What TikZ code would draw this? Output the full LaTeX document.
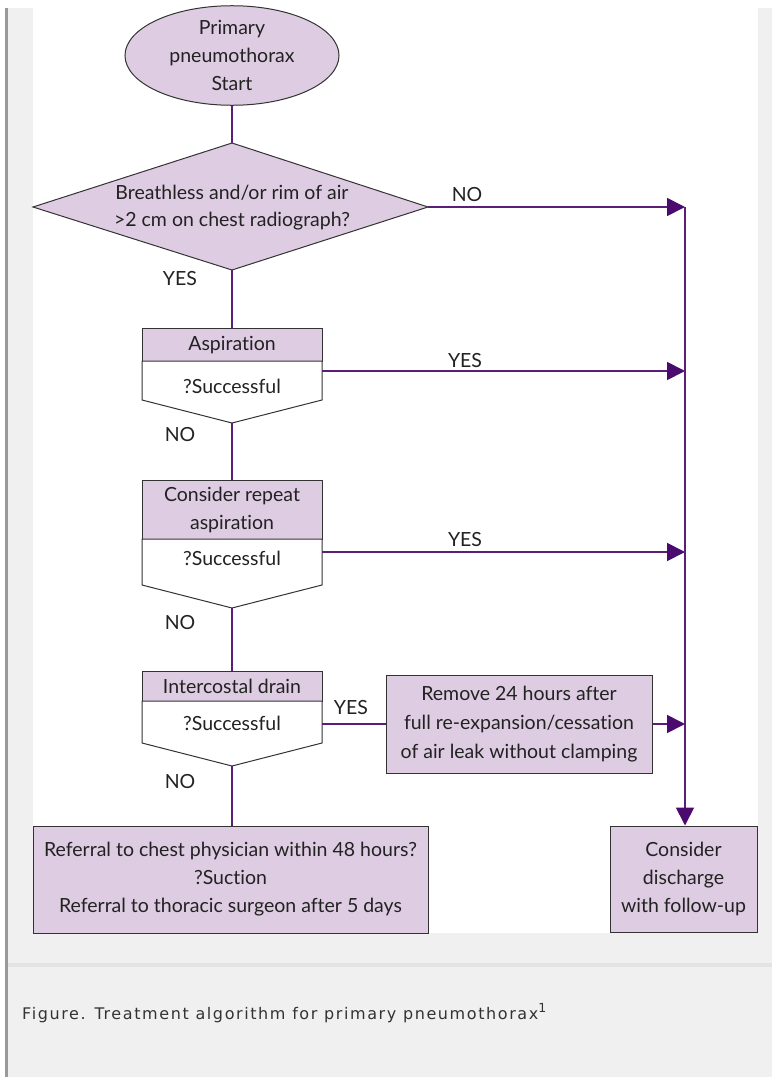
\documentclass[tikz,border=0pt]{standalone}
\usepackage{fontspec}
\setmainfont{Lato}[Ligatures=NoCommon]
\newfontfamily\capfont{DejaVu Sans}[LetterSpace=10.0]
\usetikzlibrary{arrows.meta,shapes.geometric}
\definecolor{lav}{RGB}{222,204,226}
\definecolor{pline}{RGB}{88,30,120}
\definecolor{parrow}{RGB}{75,10,110}
\definecolor{bgray}{RGB}{240,240,240}
\definecolor{txt}{RGB}{34,34,34}
\begin{document}
\begin{tikzpicture}[x=1pt,y=-1pt,
  conn/.style={draw=pline,line width=1.8pt},
  arr/.style={conn,-{Triangle[length=18pt,width=18pt,color=parrow]}},
  shapebox/.style={draw=black!80,line width=1pt,fill=lav},
  whitebox/.style={draw=black!80,line width=1pt,fill=white},
  lbl/.style={font=\fontsize{19.5}{28}\selectfont,text=txt,inner sep=0pt},
  boxtext/.style={lbl,align=center}]
% background
\fill[bgray] (0,0) rectangle (772,1077);
\fill[white] (0,0) rectangle (772,8);
\fill[white] (0,0) rectangle (5,1077);
\fill[black!40] (5,8) rectangle (7.5,1077);
\fill[white] (33,0) rectangle (758,933);
\fill[black!11] (8,963) rectangle (772,967);
\useasboundingbox (0,0) rectangle (772,1077);

% start
\node[shapebox, ellipse, minimum width=214pt, minimum height=93pt, inner sep=0pt, boxtext] (start) at (232,55.5) {Primary\\pneumothorax\\Start};

% decision
\path[shapebox] (232,143) coordinate (dT) -- (428,207) coordinate (dR) -- (232,270) coordinate (dB) -- (33,207) coordinate (dL) -- cycle;
\node[boxtext, font=\fontsize{19.5}{27}\selectfont] (dec) at (232,208) {Breathless and/or rim of air\\>2 cm on chest radiograph?};

% box 1
\path[shapebox] (142,328) rectangle (322,361);
\path[whitebox] (142,361) -- (322,361) -- (322,400) -- (232,423) coordinate (b1B) -- (142,400) -- cycle;
\coordinate (b1T) at (232,328);
\coordinate (b1R) at (322,371);
\node[boxtext] (asp) at (232,345) {Aspiration};
\node[boxtext] (asps) at (232,386) {?Successful};

% box 2
\path[shapebox] (142,480) rectangle (322,539);
\path[whitebox] (142,539) -- (322,539) -- (322,585) -- (232,608) coordinate (b2B) -- (142,585) -- cycle;
\coordinate (b2T) at (232,480);
\coordinate (b2R) at (322,552);
\node[boxtext] (rep) at (232,510) {Consider repeat\\aspiration};
\node[boxtext] (reps) at (232,558) {?Successful};

% box 3
\path[shapebox] (142,671) rectangle (322,701);
\path[whitebox] (142,701) -- (322,701) -- (322,743) -- (232,766) coordinate (b3B) -- (142,743) -- cycle;
\coordinate (b3T) at (232,671);
\coordinate (b3R) at (322,724);
\node[boxtext] (icd) at (232,686) {Intercostal drain};
\node[boxtext] (icds) at (232,723) {?Successful};

% remove box
\node[shapebox, boxtext, minimum width=266pt, minimum height=98pt, font=\fontsize{19.5}{29}\selectfont] (rem) at (519,724) {Remove 24 hours after\\full re-expansion/cessation\\of air leak without clamping};

% referral box
\node[shapebox, boxtext, minimum width=395pt, minimum height=107pt] (ref) at (230.5,879.5) {Referral to chest physician within 48 hours?\\?Suction\\Referral to thoracic surgeon after 5 days};

% consider discharge
\node[shapebox, boxtext, minimum width=147pt, minimum height=106pt] (dis) at (683.5,879) {Consider\\discharge\\with follow-up};

% right vertical coordinates
\coordinate (v1) at (685,207);
\coordinate (v2) at (685,371);
\coordinate (v3) at (685,552);
\coordinate (v4) at (685,724);

% connectors
\draw[conn] (start.south) -- (dT);
\draw[conn] (dB) -- (b1T);
\draw[conn] (b1B) -- (b2T);
\draw[conn] (b2B) -- (b3T);
\draw[conn] (b3B) -- (b3B |- ref.north);
\draw[arr] (dR) -- (v1);
\draw[arr] (b1R) -- (v2);
\draw[arr] (b2R) -- (v3);
\draw[conn] (b3R) -- (rem.west |- b3R);
\draw[arr] (rem.east |- v4) -- (v4);
\draw[arr] (v1) -- (v1 |- dis.north);

% labels
\node[lbl] (l1) at (467,195) {NO};
\node[lbl] (l2) at (180,279) {YES};
\node[lbl] (l3) at (465,361) {YES};
\node[lbl] (l4) at (180,435) {NO};
\node[lbl] (l5) at (465,540) {YES};
\node[lbl] (l6) at (180,622) {NO};
\node[lbl] (l7) at (351,708) {YES};
\node[lbl] (l8) at (180,781) {NO};

% caption
\node[anchor=west, inner sep=0pt, font=\capfont\fontsize{16}{18}\selectfont, text=black!80] (cap) at (22,1013) {Figure. Treatment algorithm for primary pneumothorax\raisebox{6.5pt}{\fontsize{12.5}{14}\selectfont 1}};
\end{tikzpicture}
\end{document}
